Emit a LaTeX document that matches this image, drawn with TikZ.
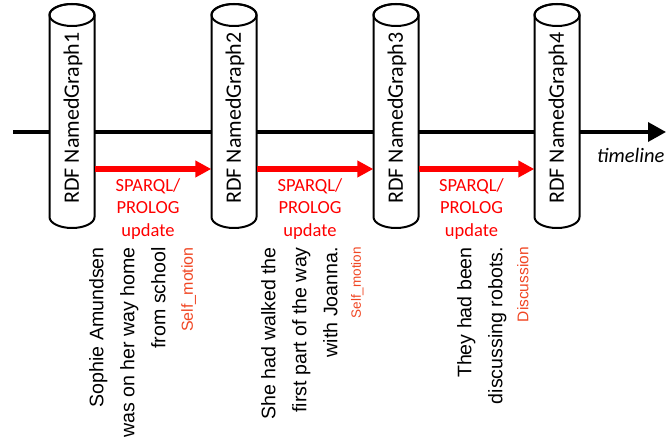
\documentclass[tikz,border=0pt]{standalone}
\usepackage{fontspec}
\setmainfont{Liberation Sans}
\newfontfamily\calib{Carlito}
\usetikzlibrary{arrows.meta,calc}
\definecolor{lblred}{RGB}{240,70,35}
\begin{document}
\begin{tikzpicture}[x=1pt,y=1pt,
  cylbox/.style={minimum width=45pt,minimum height=224pt,inner sep=0pt,draw=none},
  cylline/.style={line width=2pt,draw=black,fill=white},
  cyltext/.style={rotate=90,inner sep=0pt,font=\calib\fontsize{22}{26}\selectfont},
  timeaxis/.style={line width=3.5pt,-{Triangle[length=18pt,width=19pt]}},
  upd/.style={draw=red,line width=6pt,-{Triangle[length=16pt,width=16pt]}},
  updlabel/.style={text=red,align=center,inner sep=0pt,font=\calib\fontsize{18.5}{22.5}\selectfont,anchor=north},
  sent/.style={rotate=90,anchor=north east,align=right,inner sep=0pt,font=\fontsize{19.6}{31}\selectfont},
  framelbl/.style={rotate=90,anchor=north east,inner sep=0pt,text=lblred}
]
\useasboundingbox (0,0) rectangle (666,-443);
\coordinate (t0) at (13,-132);
\coordinate (t1) at (666,-132);
\draw[timeaxis] (t0) -- (t1);
\foreach \i/\x in {1/72,2/234,3/396,4/557}{
  \node[cylbox] (g\i) at (\x,-116) {};
  \filldraw[cylline] (\x-22.5,-15) -- (\x-22.5,-217)
     arc[start angle=180,end angle=360,x radius=22.5,y radius=11]
     -- (\x+22.5,-15)
     arc[start angle=0,end angle=180,x radius=22.5,y radius=11] -- cycle;
  \draw[line width=2pt] (\x,-15) ellipse [x radius=22.5,y radius=11];
  \node[cyltext] (g\i t) at (\x+1,-118) {RDF NamedGraph\i};
}
\draw[upd] ([yshift=-53pt]g1.east) -- ([yshift=-53pt]g2.west);
\draw[upd] ([yshift=-53pt]g2.east) -- ([yshift=-53pt]g3.west);
\draw[upd] ([yshift=-53pt]g3.east) -- ([yshift=-53pt]g4.west);
\node[updlabel] (u1) at ($(g1.east)!0.5!(g2.west)+(-5,-62)$) {SPARQL/\\PROLOG\\update};
\node[updlabel] (u2) at ($(g2.east)!0.5!(g3.west)+(-5,-62)$) {SPARQL/\\PROLOG\\update};
\node[updlabel] (u3) at ($(g3.east)!0.5!(g4.west)+(-5,-62)$) {SPARQL/\\PROLOG\\update};
\node[anchor=base west,inner sep=0pt,font=\calib\itshape\fontsize{20.5}{24}\selectfont] (tl) at (597,-163) {timeline};
\node[sent] (s1) at (89,-247) {Sophie Amundsen\\was on her way home\\from school};
\node[framelbl,font=\fontsize{16}{19}\selectfont] (f1) at (181,-247) {Self\_motion};
\node[sent] (s2) at (261,-247) {She had walked the\\first part of the way\\with Joanna.};
\node[framelbl,font=\fontsize{13.5}{16}\selectfont] (f2) at (351,-247) {Self\_motion};
\node[sent] (s3) at (457,-247) {They had been\\discussing robots.};
\node[framelbl,font=\fontsize{15.5}{18}\selectfont] (f3) at (517,-247) {Discussion};
\end{tikzpicture}
\end{document}
